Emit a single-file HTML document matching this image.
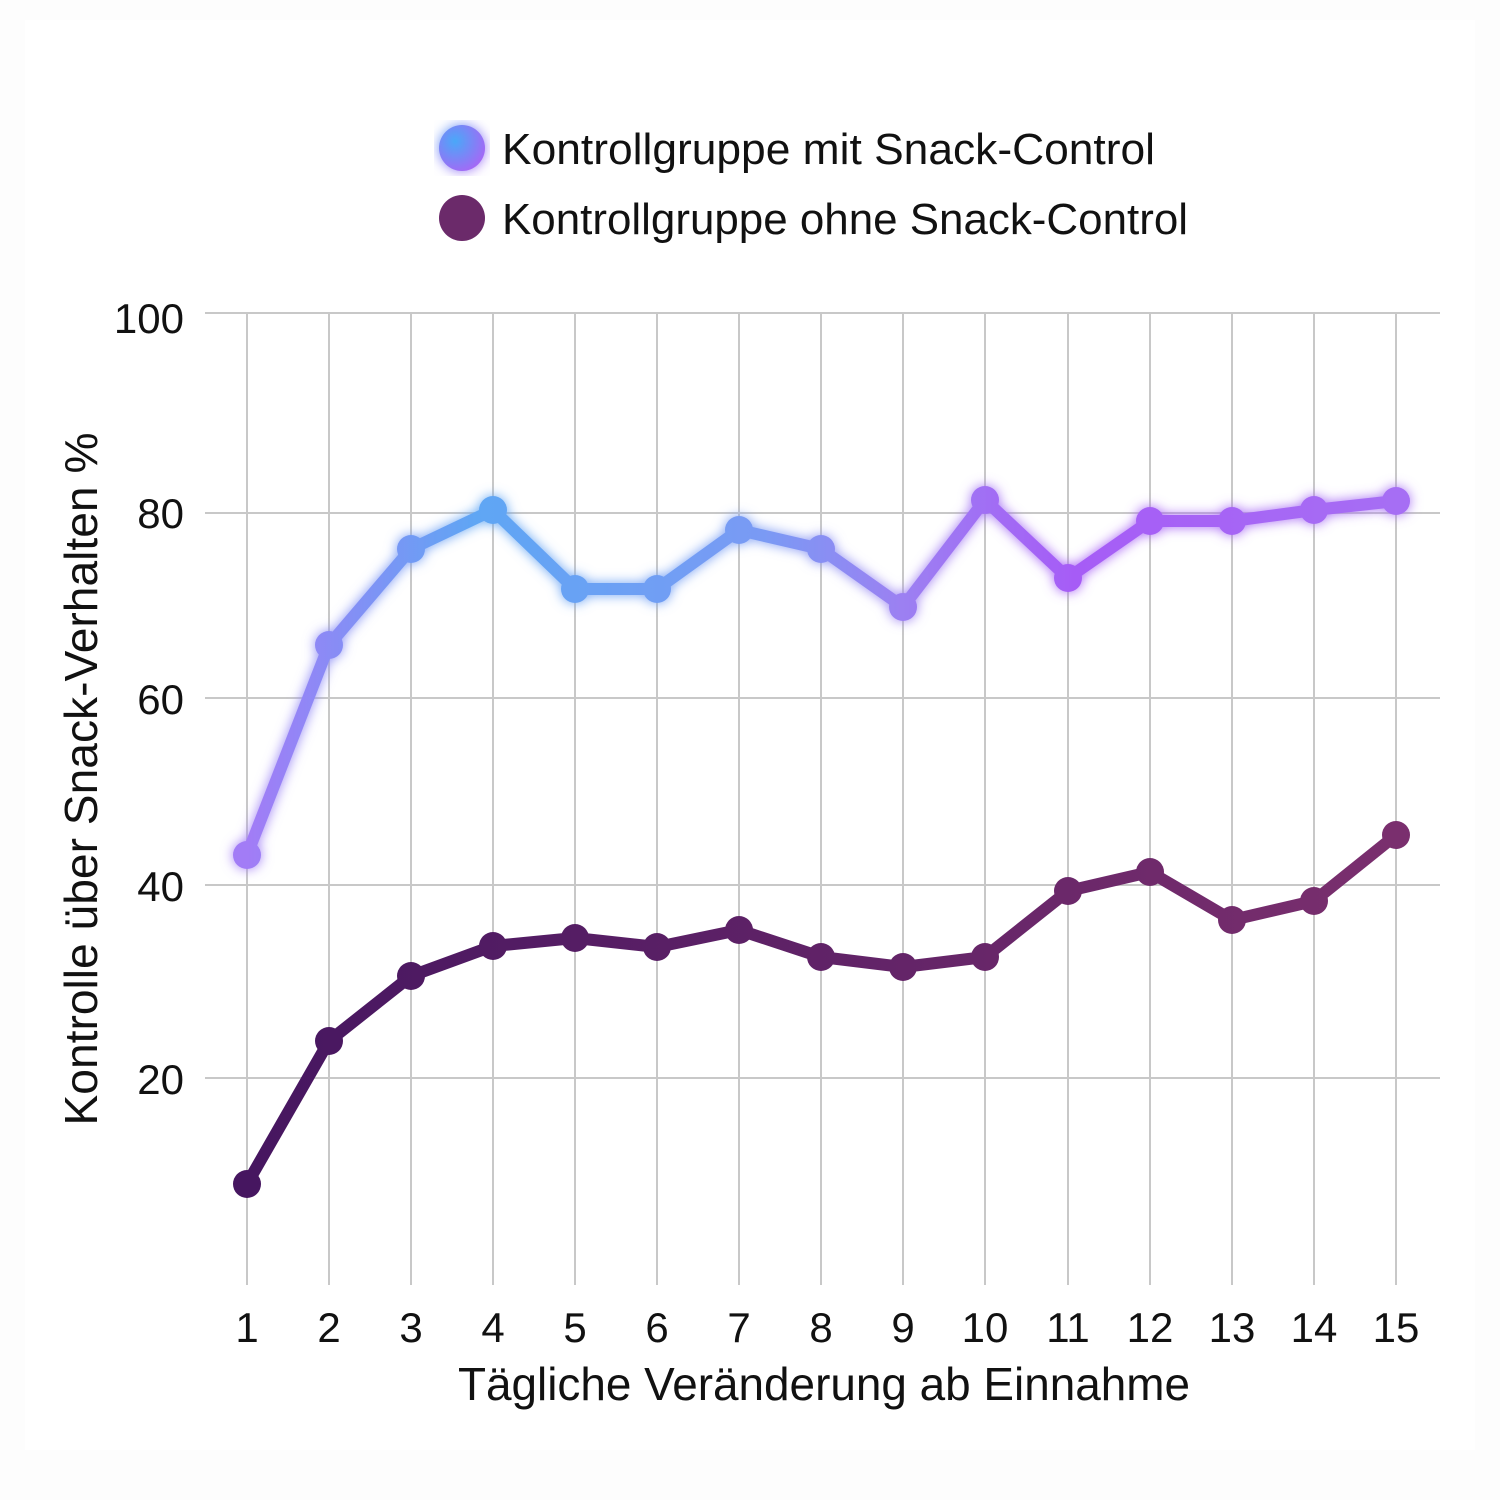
<!DOCTYPE html>
<html><head><meta charset="utf-8"><style>
html,body{margin:0;padding:0;background:#fdfdfd;}
svg{display:block;font-family:"Liberation Sans",sans-serif;}
</style></head><body>
<svg width="1500" height="1500" viewBox="0 0 1500 1500">
<defs>
<linearGradient id="gb" gradientUnits="userSpaceOnUse" x1="247" y1="0" x2="1396" y2="0">
<stop offset="0" stop-color="#a27cf6"/>
<stop offset="0.2" stop-color="#5fa6f4"/>
<stop offset="0.45" stop-color="#7a9af4"/>
<stop offset="0.57" stop-color="#9c80f2"/>
<stop offset="0.72" stop-color="#a65cf6"/>
<stop offset="1" stop-color="#a66ef4"/>
</linearGradient>
<linearGradient id="gp" gradientUnits="userSpaceOnUse" x1="247" y1="0" x2="1396" y2="0">
<stop offset="0" stop-color="#461660"/>
<stop offset="1" stop-color="#7a2f6e"/>
</linearGradient>
<radialGradient id="lb" cx="0.35" cy="0.35" r="0.8">
<stop offset="0" stop-color="#4aa8f8"/><stop offset="1" stop-color="#b060f5"/>
</radialGradient>
<filter id="glow" x="-10%" y="-10%" width="120%" height="120%">
<feGaussianBlur stdDeviation="6" result="b"/>
<feMerge><feMergeNode in="b"/><feMergeNode in="SourceGraphic"/></feMerge>
</filter>
</defs>
<rect x="25" y="20" width="1450" height="1430" fill="#ffffff"/>
<g stroke="#c8c8c8" stroke-width="2">
<line x1="205" y1="313" x2="1440" y2="313"/>
<line x1="205" y1="513" x2="1440" y2="513"/>
<line x1="205" y1="698" x2="1440" y2="698"/>
<line x1="205" y1="885" x2="1440" y2="885"/>
<line x1="205" y1="1078" x2="1440" y2="1078"/>
<line x1="247" y1="313" x2="247" y2="1285"/><line x1="329" y1="313" x2="329" y2="1285"/>
<line x1="411" y1="313" x2="411" y2="1285"/><line x1="493" y1="313" x2="493" y2="1285"/>
<line x1="575" y1="313" x2="575" y2="1285"/><line x1="657" y1="313" x2="657" y2="1285"/>
<line x1="739" y1="313" x2="739" y2="1285"/><line x1="821" y1="313" x2="821" y2="1285"/>
<line x1="903" y1="313" x2="903" y2="1285"/><line x1="985" y1="313" x2="985" y2="1285"/>
<line x1="1068" y1="313" x2="1068" y2="1285"/><line x1="1150" y1="313" x2="1150" y2="1285"/>
<line x1="1232" y1="313" x2="1232" y2="1285"/><line x1="1314" y1="313" x2="1314" y2="1285"/>
<line x1="1396" y1="313" x2="1396" y2="1285"/>
</g>
<g font-size="42" fill="#111" text-anchor="end">
<text x="184" y="333">100</text><text x="184" y="528">80</text>
<text x="184" y="714">60</text><text x="184" y="901">40</text><text x="184" y="1094">20</text>
</g>
<g font-size="42" fill="#111" text-anchor="middle">
<text x="247" y="1342">1</text><text x="329" y="1342">2</text><text x="411" y="1342">3</text>
<text x="493" y="1342">4</text><text x="575" y="1342">5</text><text x="657" y="1342">6</text>
<text x="739" y="1342">7</text><text x="821" y="1342">8</text><text x="903" y="1342">9</text>
<text x="985" y="1342">10</text><text x="1068" y="1342">11</text><text x="1150" y="1342">12</text>
<text x="1232" y="1342">13</text><text x="1314" y="1342">14</text><text x="1396" y="1342">15</text>
<text x="824" y="1400" font-size="46" textLength="732" lengthAdjust="spacingAndGlyphs">Tägliche Veränderung ab Einnahme</text>
<text transform="translate(97,779) rotate(-90)" font-size="46" textLength="693" lengthAdjust="spacingAndGlyphs">Kontrolle über Snack-Verhalten %</text>
</g>
<g filter="url(#glow)">
<polyline fill="none" stroke="url(#gb)" stroke-width="12" stroke-linejoin="round" points="247,855 329,645 411,549 493,510 575,589 657,589 739,530 821,549 903,607 985,500 1068,578 1150,521 1232,521 1314,510 1396,501"/>
<g fill="url(#gb)">
<circle cx="247" cy="855" r="14"/><circle cx="329" cy="645" r="14"/><circle cx="411" cy="549" r="14"/>
<circle cx="493" cy="510" r="14"/><circle cx="575" cy="589" r="14"/><circle cx="657" cy="589" r="14"/>
<circle cx="739" cy="530" r="14"/><circle cx="821" cy="549" r="14"/><circle cx="903" cy="607" r="14"/>
<circle cx="985" cy="500" r="14"/><circle cx="1068" cy="578" r="14"/><circle cx="1150" cy="521" r="14"/>
<circle cx="1232" cy="521" r="14"/><circle cx="1314" cy="510" r="14"/><circle cx="1396" cy="501" r="14"/>
</g>
</g>
<polyline fill="none" stroke="url(#gp)" stroke-width="12" stroke-linejoin="round" points="247,1184 329,1041 411,976 493,946 575,938 657,947 739,930 821,957 903,967 985,957 1068,891 1150,872 1232,920 1314,901 1396,835"/>
<g fill="url(#gp)">
<circle cx="247" cy="1184" r="14"/><circle cx="329" cy="1041" r="14"/><circle cx="411" cy="976" r="14"/>
<circle cx="493" cy="946" r="14"/><circle cx="575" cy="938" r="14"/><circle cx="657" cy="947" r="14"/>
<circle cx="739" cy="930" r="14"/><circle cx="821" cy="957" r="14"/><circle cx="903" cy="967" r="14"/>
<circle cx="985" cy="957" r="14"/><circle cx="1068" cy="891" r="14"/><circle cx="1150" cy="872" r="14"/>
<circle cx="1232" cy="920" r="14"/><circle cx="1314" cy="901" r="14"/><circle cx="1396" cy="835" r="14"/>
</g>
<circle cx="462" cy="148" r="23" fill="url(#lb)" filter="url(#glow)"/>
<circle cx="462" cy="218" r="23" fill="#6b2a6a"/>
<g font-size="44" fill="#111">
<text x="502" y="164" textLength="653" lengthAdjust="spacingAndGlyphs">Kontrollgruppe mit Snack-Control</text>
<text x="502" y="234" textLength="686" lengthAdjust="spacingAndGlyphs">Kontrollgruppe ohne Snack-Control</text>
</g>
</svg>
</body></html>
